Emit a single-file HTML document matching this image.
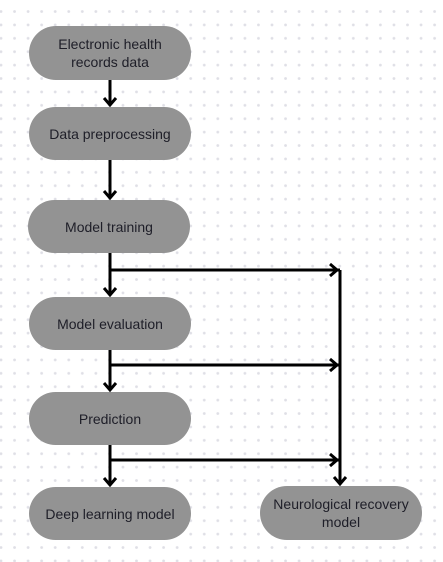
<!DOCTYPE html>
<html><head><meta charset="utf-8">
<style>
html,body{margin:0;padding:0;background:#fff;}
svg{display:block;}
text{font-family:"Liberation Sans",sans-serif;font-size:14px;fill:#1e1e28;text-anchor:middle;}
</style></head><body>
<svg width="443" height="562" viewBox="0 0 443 562" xmlns="http://www.w3.org/2000/svg">
<defs>
<pattern id="d" x="1" y="11.5" width="13.55" height="13.4" patternUnits="userSpaceOnUse">
<circle cx="0" cy="0" r="1.4" fill="#dfdfe6"/><circle cx="13.55" cy="0" r="1.4" fill="#dfdfe6"/>
<circle cx="0" cy="13.4" r="1.4" fill="#dfdfe6"/><circle cx="13.55" cy="13.4" r="1.4" fill="#dfdfe6"/>
</pattern>
</defs>
<rect width="443" height="562" fill="url(#d)"/>
<g fill="#939393">
<rect x="29" y="26" width="162" height="54" rx="27"/>
<rect x="29" y="107" width="162" height="53" rx="26.5"/>
<rect x="28" y="200" width="162" height="53" rx="26.5"/>
<rect x="29" y="297" width="162" height="53" rx="26.5"/>
<rect x="29" y="392" width="162" height="53" rx="26.5"/>
<rect x="29" y="487" width="162" height="53" rx="26.5"/>
<rect x="260" y="486" width="162" height="54" rx="27"/>
</g>
<g stroke="#000" stroke-width="3" fill="none" stroke-linejoin="miter">
<line x1="110" y1="80" x2="110" y2="105"/>
<line x1="110" y1="160" x2="110" y2="198"/>
<line x1="110" y1="253" x2="110" y2="295"/>
<line x1="110" y1="350" x2="110" y2="390"/>
<line x1="110" y1="445" x2="110" y2="485"/>
<line x1="110" y1="270" x2="340" y2="270"/>
<line x1="110" y1="365" x2="340" y2="365"/>
<line x1="110" y1="460" x2="340" y2="460"/>
<line x1="340" y1="270" x2="340" y2="484"/>
<polyline points="104,98 110,105 116,98"/>
<polyline points="104,191 110,198 116,191"/>
<polyline points="104,288 110,295 116,288"/>
<polyline points="104,383 110,390 116,383"/>
<polyline points="104,478 110,485 116,478"/>
<polyline points="334,477 340,484 346,477"/>
<polyline points="330,264 337,270 330,276"/>
<polyline points="330,359 337,365 330,371"/>
<polyline points="330,454 337,460 330,466"/>
</g>
<text x="110" y="49">Electronic health</text>
<text x="110" y="67">records data</text>
<text x="110" y="139">Data preprocessing</text>
<text x="109" y="232">Model training</text>
<text x="110" y="329">Model evaluation</text>
<text x="110" y="424">Prediction</text>
<text x="110" y="519">Deep learning model</text>
<text x="341" y="509">Neurological recovery</text>
<text x="341" y="527">model</text>
</svg>
</body></html>
